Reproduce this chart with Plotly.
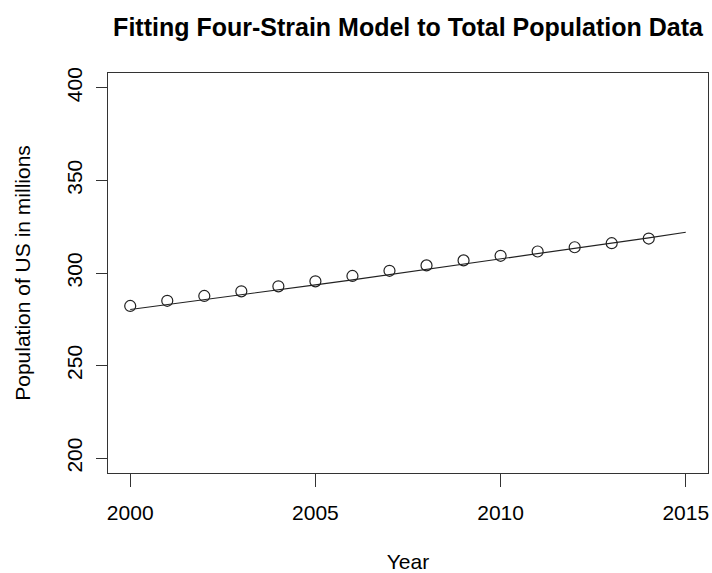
import plotly.graph_objects as go

# Observed total US population (millions), 2000-2014
years = [2000, 2001, 2002, 2003, 2004, 2005, 2006, 2007,
         2008, 2009, 2010, 2011, 2012, 2013, 2014]
population = [282.2, 285.0, 287.6, 290.1, 292.8, 295.5, 298.4, 301.2,
              304.1, 306.8, 309.3, 311.6, 313.9, 316.1, 318.6]

# Four-strain model fit, total population (millions), 2000-2015
fit_years = [2000, 2001, 2002, 2003, 2004, 2005, 2006, 2007,
             2008, 2009, 2010, 2011, 2012, 2013, 2014, 2015]
fit_total = [280.3, 282.9, 285.6, 288.2, 290.9, 293.6, 296.3, 299.1,
             301.9, 304.7, 307.5, 310.3, 313.2, 316.1, 319.0, 322.0]

x_ticks = [2000, 2005, 2010, 2015]
y_ticks = [200, 250, 300, 350, 400]

FONT = "Liberation Sans, Arial, Helvetica, sans-serif"
AXIS_COLOR = "#333333"

fig = go.Figure()
fig.add_trace(go.Scatter(
    x=fit_years, y=fit_total, mode="lines",
    line=dict(color="#222222", width=1.2), showlegend=False, hoverinfo="skip",
))
fig.add_trace(go.Scatter(
    x=years, y=population, mode="markers",
    marker=dict(symbol="circle-open", size=11, color="#222222",
                line=dict(color="#222222", width=1.2)),
    showlegend=False,
))

fig.update_layout(
    width=712, height=573,
    margin=dict(l=108, r=4, t=73, b=100, autoexpand=False),
    paper_bgcolor="white", plot_bgcolor="white",
    font=dict(family=FONT, color="black"),
    title=dict(
        text="<b>Fitting Four-Strain Model to Total Population Data</b>",
        font=dict(family=FONT, size=25, color="black"),
        x=(108 + 600 / 2) / 712, xanchor="center",
        y=1 - 27 / 573, yanchor="middle",
    ),
)

fig.update_xaxes(
    range=[1999.4, 2015.6], tickvals=x_ticks,
    ticktext=[str(v) for v in x_ticks],
    showgrid=False, zeroline=False, automargin=False,
    showline=True, mirror=True, linecolor=AXIS_COLOR, linewidth=1.2,
    ticks="outside", ticklen=13, tickcolor=AXIS_COLOR, tickwidth=1.2,
    tickfont=dict(size=21), ticklabelstandoff=8,
    title=dict(text="Year", font=dict(size=21), standoff=33),
)
fig.update_yaxes(
    range=[192, 408], tickvals=y_ticks,
    ticktext=[str(v) for v in y_ticks],
    showgrid=False, zeroline=False, automargin=False,
    showline=True, mirror=True, linecolor=AXIS_COLOR, linewidth=1.2,
    ticks="outside", ticklen=11, tickcolor=AXIS_COLOR, tickwidth=1.2,
    tickfont=dict(size=21), tickangle=-90, ticklabelstandoff=6,
    title=dict(text="Population of US in millions", font=dict(size=21),
               standoff=26),
)

fig.write_html("out.html")
